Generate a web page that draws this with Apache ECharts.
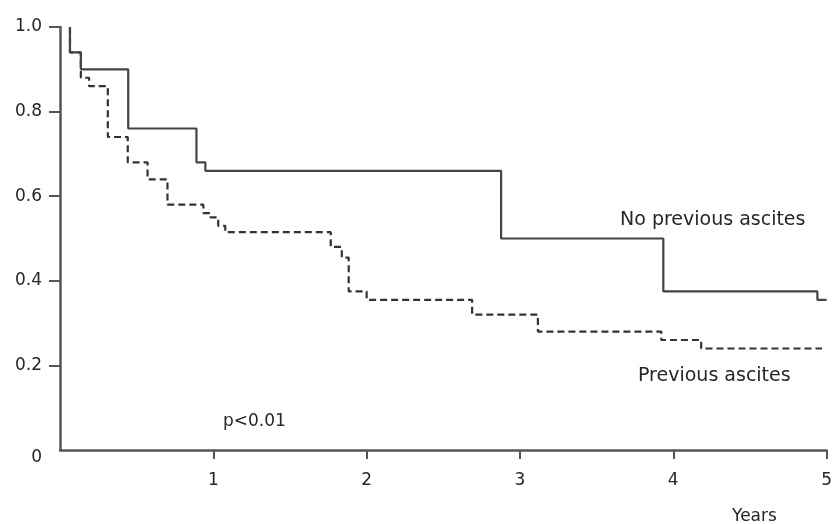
<!DOCTYPE html>
<html>
<head>
<meta charset="utf-8">
<script src="https://cdn.jsdelivr.net/npm/echarts@6/dist/echarts.min.js"></script>
<style>
  html, body { margin: 0; padding: 0; background: #fff; }
  #chart { width: 835px; height: 524px; }
</style>
</head>
<body>
<div id="chart"></div>
<script>
// Kaplan-Meier survival estimates (time in years, cumulative survival)
const noAscitesYears = [0.065, 0.065, 0.136, 0.445, 0.89, 0.948, 2.877, 3.935, 4.94, 5.0];
const noAscitesSurv  = [1.0, 0.94, 0.90, 0.76, 0.68, 0.66, 0.50, 0.375, 0.355, 0.355];

const ascitesYears = [0.065, 0.065, 0.136, 0.19, 0.312, 0.442, 0.571, 0.701, 0.935, 0.981, 1.032, 1.078,
                      1.766, 1.838, 1.883, 2.0, 2.688, 3.117, 3.922, 4.182, 4.97];
const ascitesSurv  = [1.0, 0.94, 0.88, 0.86, 0.74, 0.68, 0.64, 0.58, 0.56, 0.55, 0.53, 0.515,
                      0.48, 0.455, 0.375, 0.355, 0.32, 0.28, 0.26, 0.24, 0.24];

const xTicks = [1, 2, 3, 4, 5];
const yTicks = [0, 0.2, 0.4, 0.6, 0.8, 1.0];

const seriesLabels = ['No previous ascites', 'Previous ascites'];
const pValueText = 'p<0.01';
const xAxisTitle = 'Years';

const zip = (xs, ys) => xs.map((x, i) => [x, ys[i]]);

const FONT = '"DejaVu Sans", sans-serif';
const TEXT = '#262626';
const AXIS = '#555';

const chart = echarts.init(document.getElementById('chart'), null, { renderer: 'canvas' });

chart.setOption({
  backgroundColor: '#fff',
  animation: false,
  grid: { left: 60, right: 6, top: 27, bottom: 74, containLabel: false },
  xAxis: {
    type: 'value',
    min: 0, max: 5, interval: 1,
    axisLine: { show: true, lineStyle: { color: AXIS, width: 2.5 } },
    axisTick: { show: true, length: 9, inside: false, lineStyle: { color: AXIS, width: 2 },
                customValues: xTicks },
    axisLabel: {
      margin: 22,
      color: TEXT, fontFamily: FONT, fontSize: 17,
      customValues: xTicks,
      formatter: v => String(v)
    },
    splitLine: { show: false }
  },
  yAxis: {
    type: 'value',
    min: 0, max: 1, interval: 0.2,
    axisLine: { show: true, lineStyle: { color: AXIS, width: 2.5 } },
    axisTick: { show: true, length: 11, lineStyle: { color: AXIS, width: 2 },
                customValues: yTicks.filter(v => v > 0) },
    axisLabel: {
      margin: 18,
      color: TEXT, fontFamily: FONT, fontSize: 17,
      customValues: yTicks,
      formatter: v => (v === 0 ? '{zero|0}' : v.toFixed(1)),
      rich: { zero: { color: TEXT, fontFamily: FONT, fontSize: 17, padding: [16, 0, 0, 0] } }
    },
    splitLine: { show: false }
  },
  series: [
    {
      name: seriesLabels[1],
      type: 'line',
      step: 'end',
      data: zip(ascitesYears, ascitesSurv),
      showSymbol: false,
      lineStyle: { color: '#333', width: 2.2, type: [7, 4] },
      z: 2
    },
    {
      name: seriesLabels[0],
      type: 'line',
      step: 'end',
      data: zip(noAscitesYears, noAscitesSurv),
      showSymbol: false,
      lineStyle: { color: '#444', width: 2.2, type: 'solid' },
      z: 3
    }
  ],
  graphic: [
    { type: 'text', left: 620, top: 211,
      style: { text: seriesLabels[0], font: '19px ' + FONT, fill: TEXT } },
    { type: 'text', left: 638, top: 367,
      style: { text: seriesLabels[1], font: '19px ' + FONT, fill: TEXT } },
    { type: 'text', left: 223, top: 413,
      style: { text: pValueText, font: '17px ' + FONT, fill: TEXT } },
    { type: 'text', left: 732, top: 508,
      style: { text: xAxisTitle, font: '17px ' + FONT, fill: TEXT } }
  ]
});
</script>
</body>
</html>
